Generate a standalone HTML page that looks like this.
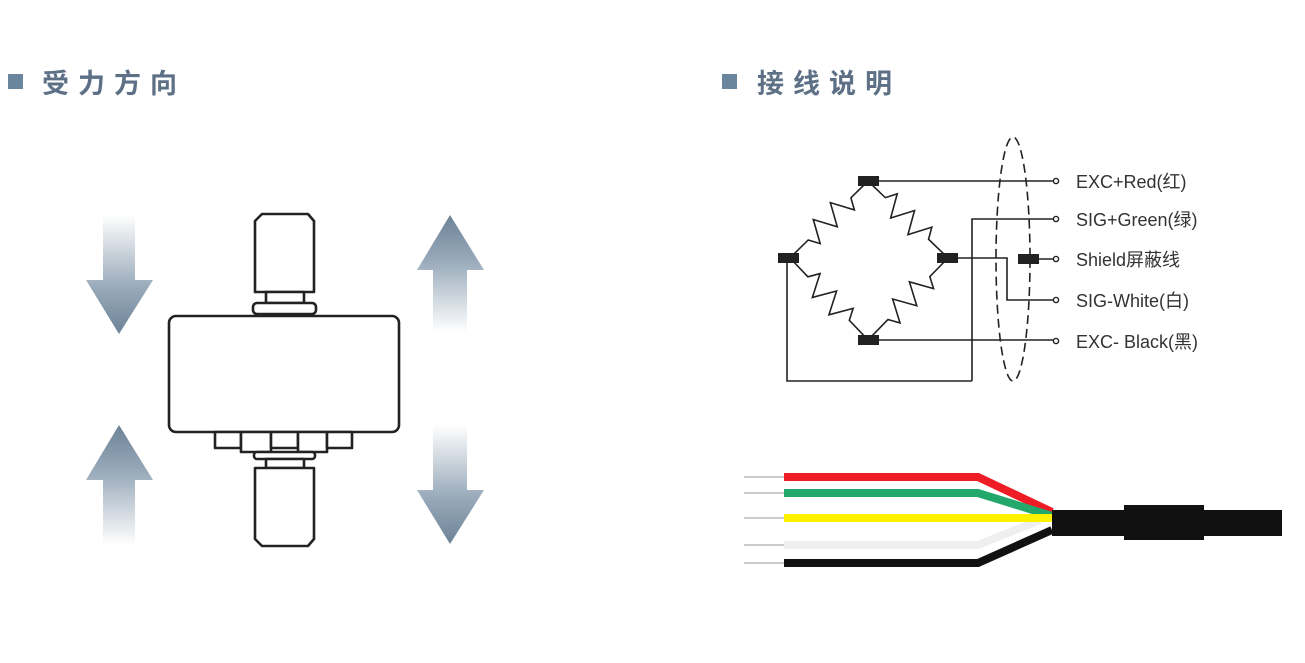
<!DOCTYPE html>
<html><head><meta charset="utf-8"><style>
html,body{margin:0;padding:0;background:#fff;}
svg{display:block;}
</style></head><body>
<svg width="1305" height="663" viewBox="0 0 1305 663" xmlns="http://www.w3.org/2000/svg">
<defs>
<linearGradient id="gd" x1="0" y1="0" x2="0" y2="1">
<stop offset="0" stop-color="#fff"/><stop offset="0.6" stop-color="#9aabbb"/><stop offset="1" stop-color="#6d8398"/>
</linearGradient>
<linearGradient id="gu" x1="0" y1="1" x2="0" y2="0">
<stop offset="0" stop-color="#fff"/><stop offset="0.6" stop-color="#9aabbb"/><stop offset="1" stop-color="#6d8398"/>
</linearGradient>
</defs>
<!-- headings -->
<rect x="8" y="74" width="15" height="15" fill="#6a869f"/>
<text x="42" y="93" font-family="'Liberation Sans','Noto Sans CJK SC',sans-serif" font-size="27" font-weight="bold" fill="#5d7086" letter-spacing="9">受力方向</text>
<rect x="722" y="74" width="15" height="15" fill="#6a869f"/>
<text x="757" y="93" font-family="'Liberation Sans','Noto Sans CJK SC',sans-serif" font-size="27" font-weight="bold" fill="#5d7086" letter-spacing="9">接线说明</text>

<!-- arrows -->
<polygon points="103,215 135,215 135,280 153,280 119,334 86,280 103,280" fill="url(#gd)"/>
<polygon points="103,545 135,545 135,480 153,480 119,425 86,480 103,480" fill="url(#gu)"/>
<polygon points="433,332 467,332 467,270 484,270 450,215 417,270 433,270" fill="url(#gu)"/>
<polygon points="433,425 467,425 467,490 484,490 450,544 417,490 433,490" fill="url(#gd)"/>

<!-- load cell -->
<g fill="#fff" stroke="#222" stroke-width="2.6" stroke-linejoin="round">
<path d="M262,214 L308,214 L314,221 L314,292 L255,292 L255,221 Z"/>
<rect x="266" y="292" width="38" height="11"/>
<rect x="253" y="303" width="63" height="11" rx="4"/>
<rect x="169" y="316" width="230" height="116" rx="7"/>
<rect x="215" y="432" width="26" height="16"/>
<rect x="241" y="432" width="30" height="20"/>
<rect x="271" y="432" width="27" height="16"/>
<rect x="298" y="432" width="29" height="20"/>
<rect x="327" y="432" width="25" height="16"/>
<rect x="254" y="452" width="61" height="7" rx="3"/>
<rect x="266" y="459" width="38" height="9"/>
<path d="M255,468 L314,468 L314,539 L308,546 L262,546 L255,539 Z"/>
</g>

<!-- circuit -->
<g stroke="#222" stroke-width="1.6" fill="none">
<path d="M868,181 H1053"/>
<path d="M972,381 V219 H1053"/>
<path d="M948,258 H1007 V300 H1053"/>
<path d="M1028,259 H1053"/>
<path d="M868,340 H1053"/>
<path d="M787,258 V381 H972"/>
<g transform="translate(868,181) rotate(135.4)"><path d="M0,0 L24,0 L30,-11 L42,11 L54,-11 L66,11 L78,-11 L84,0 L110,0"/></g>
<g transform="translate(868,181) rotate(43.9)"><path d="M0,0 L24,0 L30,-11 L42,11 L54,-11 L66,11 L78,-11 L84,0 L111,0"/></g>
<g transform="translate(790,258) rotate(46.4)"><path d="M0,0 L26,0 L32,-11 L44,11 L56,-11 L68,11 L80,-11 L86,0 L113,0"/></g>
<g transform="translate(948,258) rotate(134.3)"><path d="M0,0 L26,0 L32,-11 L44,11 L56,-11 L68,11 L80,-11 L86,0 L115,0"/></g>
<ellipse cx="1013" cy="259" rx="17" ry="122" stroke-dasharray="9,5"/>
</g>
<g fill="#222">
<rect x="858" y="176" width="21" height="10"/>
<rect x="778" y="253" width="21" height="10"/>
<rect x="937" y="253" width="21" height="10"/>
<rect x="858" y="335" width="21" height="10"/>
<rect x="1018" y="254" width="21" height="10"/>
</g>
<g fill="#fff" stroke="#222" stroke-width="1.4">
<circle cx="1056" cy="181" r="2.6"/><circle cx="1056" cy="219" r="2.6"/><circle cx="1056" cy="259" r="2.6"/><circle cx="1056" cy="300" r="2.6"/><circle cx="1056" cy="341" r="2.6"/>
</g>
<g font-family="'Liberation Sans','Noto Sans CJK SC',sans-serif" font-size="18" fill="#333">
<text x="1076" y="188">EXC+Red(红)</text>
<text x="1076" y="226">SIG+Green(绿)</text>
<text x="1076" y="266">Shield屏蔽线</text>
<text x="1076" y="307">SIG-White(白)</text>
<text x="1076" y="348">EXC- Black(黑)</text>
</g>

<!-- cable -->
<g stroke="#ccc" stroke-width="2">
<path d="M744,477 H784 M744,493 H784 M744,518 H784 M744,545 H784 M744,563 H784"/>
</g>
<g fill="none" stroke-width="8">
<path d="M784,545 H978 L1040,520" stroke="#efefef"/>
<path d="M784,477 H978 L1052,512" stroke="#ee1c24"/>
<path d="M784,493 H978 L1052,516" stroke="#22a86b"/>
<path d="M784,518 H1052" stroke="#fff200"/>
<path d="M784,563 H978 L1052,530" stroke="#111"/>
</g>
<rect x="1052" y="510" width="230" height="26" fill="#111"/>
<rect x="1124" y="505" width="80" height="35" fill="#111"/>
</svg>
</body></html>
